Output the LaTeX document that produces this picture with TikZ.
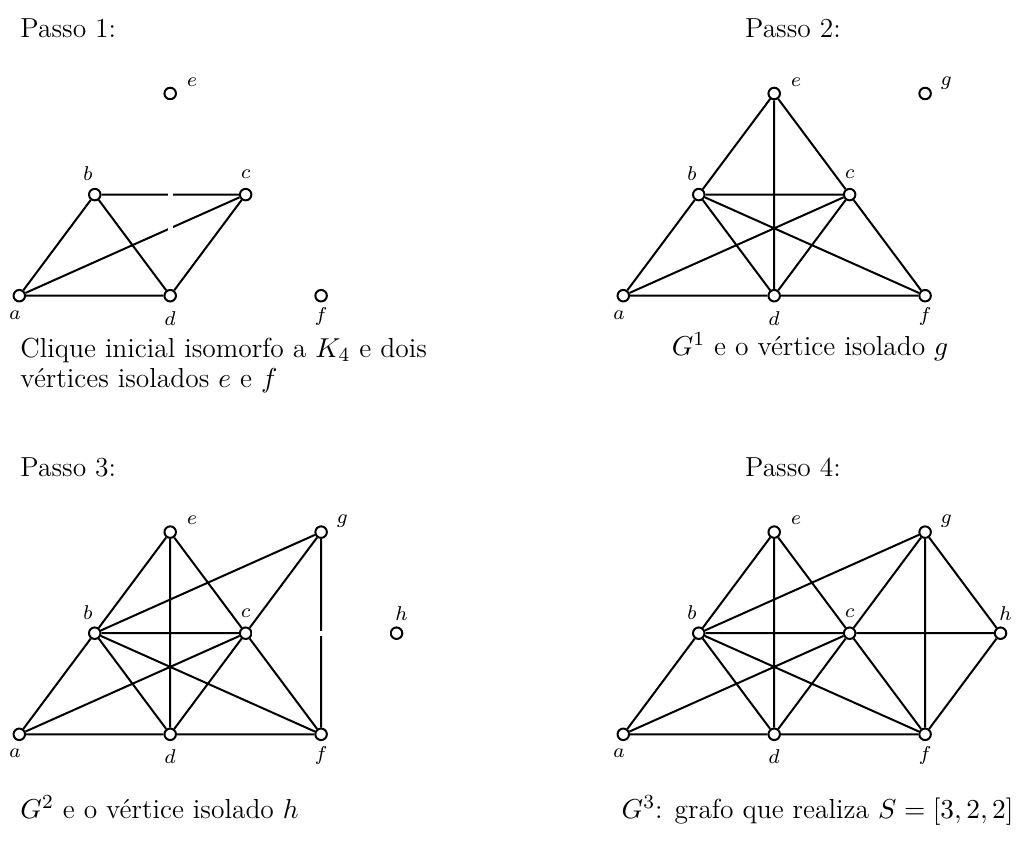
\documentclass[tikz,border=0pt]{standalone}
\usetikzlibrary{calc}
\begin{document}
\begin{tikzpicture}[x=30.18pt,y=40.44pt,
  vtx/.style={circle,draw,fill=white,line width=0.8pt,minimum size=4.6pt,inner sep=0pt},
  eline/.style={line width=0.8pt},
  gapline/.style={draw=white,line width=2pt},
  lbl/.style={font=\fontsize{8.5}{10}\selectfont,inner sep=0pt},
  txt/.style={font=\fontsize{11}{12}\selectfont,inner sep=0pt,anchor=base west},
  La/.style={label={[lbl,xshift=-1.7pt,yshift=-7.7pt]center:$a$}},
  Lb/.style={label={[lbl,xshift=-2.7pt,yshift=8.4pt]center:$b$}},
  Lc/.style={label={[lbl,yshift=8pt]center:$c$}},
  Ld/.style={label={[lbl,yshift=-9pt]center:$d$}},
  Le/.style={label={[lbl,xshift=8.7pt,yshift=4.6pt]center:$e$}},
  Lf/.style={label={[lbl,yshift=-8.4pt]center:$f$}},
  Lg/.style={label={[lbl,xshift=8.5pt,yshift=4.2pt]center:$g$}},
  Lh/.style={label={[lbl,xshift=2pt,yshift=8pt]center:$h$}}]
\useasboundingbox (0pt,0pt) rectangle (407.2pt,-337.2pt);

% ---------- Passo 1 ----------
\begin{scope}[shift={(7.72pt,-118.28pt)}]
  \node[vtx,La] (a1) at (0,0) {};
  \node[vtx,Lb] (b1) at (1,1) {};
  \node[vtx,Lc] (c1) at (3,1) {};
  \node[vtx,Ld] (d1) at (2,0) {};
  \node[vtx,Le] (e1) at (2,2) {};
  \node[vtx,Lf] (f1) at (4,0) {};
\end{scope}
\draw[eline] (a1)--(b1) (a1)--(c1) (a1)--(d1) (b1)--(c1) (b1)--(d1) (c1)--(d1);
\draw[gapline] (e1)--(d1);

% ---------- Passo 2 ----------
\begin{scope}[shift={(249.32pt,-118.28pt)}]
  \node[vtx,La] (a2) at (0,0) {};
  \node[vtx,Lb] (b2) at (1,1) {};
  \node[vtx,Lc] (c2) at (3,1) {};
  \node[vtx,Ld] (d2) at (2,0) {};
  \node[vtx,Le] (e2) at (2,2) {};
  \node[vtx,Lf] (f2) at (4,0) {};
  \node[vtx,Lg] (g2) at (4,2) {};
\end{scope}
\draw[eline] (a2)--(b2) (a2)--(c2) (a2)--(d2) (b2)--(c2) (b2)--(d2) (c2)--(d2)
  (e2)--(b2) (e2)--(c2) (e2)--(d2) (f2)--(b2) (f2)--(c2) (f2)--(d2);

% ---------- Passo 3 ----------
\begin{scope}[shift={(7.72pt,-293.72pt)}]
  \node[vtx,La] (a3) at (0,0) {};
  \node[vtx,Lb] (b3) at (1,1) {};
  \node[vtx,Lc] (c3) at (3,1) {};
  \node[vtx,Ld] (d3) at (2,0) {};
  \node[vtx,Le] (e3) at (2,2) {};
  \node[vtx,Lf] (f3) at (4,0) {};
  \node[vtx,Lg] (g3) at (4,2) {};
  \node[vtx,Lh] (h3) at (5,1) {};
\end{scope}
\draw[eline] (a3)--(b3) (a3)--(c3) (a3)--(d3) (b3)--(c3) (b3)--(d3) (c3)--(d3)
  (e3)--(b3) (e3)--(c3) (e3)--(d3) (f3)--(b3) (f3)--(c3) (f3)--(d3)
  (g3)--(b3) (g3)--(c3) (g3)--(f3);
\draw[gapline] (c3)--(h3);

% ---------- Passo 4 ----------
\begin{scope}[shift={(249.32pt,-293.72pt)}]
  \node[vtx,La] (a4) at (0,0) {};
  \node[vtx,Lb] (b4) at (1,1) {};
  \node[vtx,Lc] (c4) at (3,1) {};
  \node[vtx,Ld] (d4) at (2,0) {};
  \node[vtx,Le] (e4) at (2,2) {};
  \node[vtx,Lf] (f4) at (4,0) {};
  \node[vtx,Lg] (g4) at (4,2) {};
  \node[vtx,Lh] (h4) at (5,1) {};
\end{scope}
\draw[eline] (a4)--(b4) (a4)--(c4) (a4)--(d4) (b4)--(c4) (b4)--(d4) (c4)--(d4)
  (e4)--(b4) (e4)--(c4) (e4)--(d4) (f4)--(b4) (f4)--(c4) (f4)--(d4)
  (g4)--(b4) (g4)--(c4) (g4)--(f4) (h4)--(c4) (h4)--(g4) (h4)--(f4);

% ---------- texts ----------
\node[txt] (p1) at (8pt,-15pt) {Passo 1:};
\node[txt,anchor=base] (p2) at (317.2pt,-15pt) {Passo 2:};
\node[txt] (p3) at (8pt,-190.6pt) {Passo 3:};
\node[txt,anchor=base] (p4) at (317.2pt,-190.6pt) {Passo 4:};
\node[txt] (c1a) at (8pt,-143pt) {Clique inicial isomorfo a $K_4$ e dois};
\node[txt] (c1b) at (8pt,-155pt) {vértices isolados $e$ e $f$};
\node[txt,anchor=base] (c2) at (324pt,-142pt) {$G^1$ e o vértice isolado $g$};
\node[txt] (c3) at (8pt,-327.5pt) {$G^2$ e o vértice isolado $h$};
\node[txt,anchor=base east] (c4) at (405.6pt,-327.5pt) {$G^3$: grafo que realiza $S=[3,2,2]$};
\end{tikzpicture}
\end{document}
